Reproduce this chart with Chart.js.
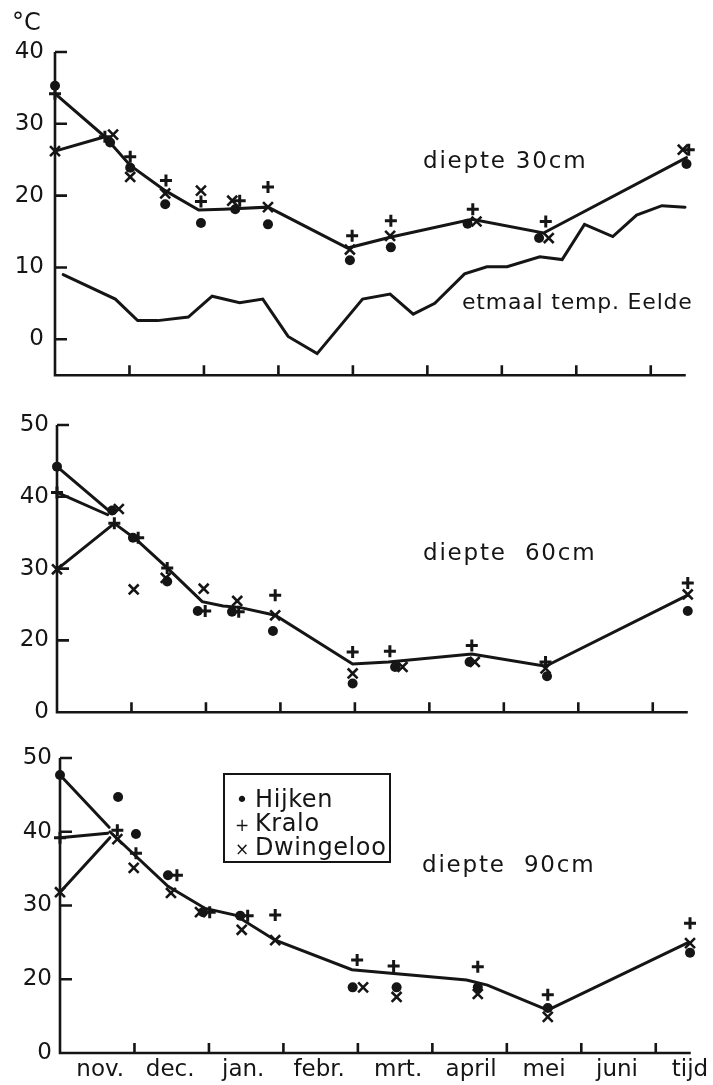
<!DOCTYPE html>
<html lang="nl">
<head>
<meta charset="UTF-8">
<title>Bodemtemperatuur Hijken, Kralo, Dwingeloo</title>
<script src="https://cdn.jsdelivr.net/npm/chart.js"></script>
<style>
  body { margin: 0; background: #fff; }
  .page { position: relative; width: 713px; height: 1085px; font-family: "DejaVu Sans", sans-serif; color: #151515; }
  .panel { position: absolute; left: 0; width: 713px; }
  .note { position: absolute; white-space: pre; line-height: 1; }
  .depth { font-size: 23px; letter-spacing: 1.8px; }
  .legend { position: absolute; left: 223px; top: 773px; width: 168px; height: 90px;
            border: 2px solid #151515; padding: 12px 0 0 10px; box-sizing: border-box;
            font-size: 24px; line-height: 24px; letter-spacing: 0.6px; }
  .legend div { white-space: pre; height: 24px; }
  .legend span { display: inline-block; width: 14px; text-align: center; margin-right: 6px; font-size: 17px; letter-spacing: 0; }
</style>
</head>
<body>
<div class="page">
  <div class="panel" style="top:0;height:400px"><canvas id="chart30"></canvas></div>
  <div class="panel" style="top:400px;height:334px"><canvas id="chart60"></canvas></div>
  <div class="panel" style="top:734px;height:351px"><canvas id="chart90"></canvas></div>

  <div class="note" style="left:12px;top:10px;font-size:24px">°C</div>
  <div class="note depth" style="left:423px;top:149px">diepte 30cm</div>
  <div class="note" style="left:462px;top:291px;font-size:22px;letter-spacing:0.8px">etmaal temp. Eelde</div>
  <div class="note depth" style="left:423px;top:541px">diepte  60cm</div>
  <div class="note depth" style="left:422px;top:853px">diepte  90cm</div>

  <div class="legend">
    <div><span style="font-size:22px">•</span>Hijken</div>
    <div><span>+</span>Kralo</div>
    <div><span>×</span>Dwingeloo</div>
  </div>
</div>

<script>
const INK = '#151515';

// x = months since the start of november (1 = dec, 2 = jan, ...)
const monthMarks = [1, 2, 3, 4, 5, 6, 7, 8];
const monthLabelPos = [0.54, 1.48, 2.46, 3.48, 4.54, 5.52, 6.50, 7.48, 8.46];
const monthLabels = ['nov.', 'dec.', 'jan.', 'febr.', 'mrt.', 'april', 'mei', 'juni', 'tijd'];

// y ticks; the 60 and 90 cm axes are broken below 20
const yTicks30 = [0, 10, 20, 30, 40];
const yLabels30 = ['0', '10', '20', '30', '40'];
const yTicksDeep = [10, 20, 30, 40, 50];
const yLabelsDeep = ['0', '20', '30', '40', '50'];

// ---- diepte 30 cm ----
const hijken30X = [0, 0.74, 1.01, 1.48, 1.96, 2.42, 2.86, 3.96, 4.51, 5.54, 6.50, 8.48];
const hijken30  = [35.3, 27.4, 23.9, 18.8, 16.2, 18.1, 16.0, 11.0, 12.8, 16.1, 14.1, 24.4];
const kralo30X  = [0, 0.67, 1.01, 1.49, 1.96, 2.48, 2.86, 3.99, 4.51, 5.61, 6.59, 8.51];
const kralo30   = [34.2, 28.2, 25.4, 22.1, 19.2, 19.3, 21.2, 14.4, 16.5, 18.1, 16.4, 26.4];
const dwing30X  = [0, 0.78, 1.01, 1.48, 1.96, 2.38, 2.86, 3.96, 4.50, 5.66, 6.63, 8.43];
const dwing30   = [26.2, 28.5, 22.6, 20.3, 20.7, 19.3, 18.4, 12.5, 14.4, 16.4, 14.1, 26.4];
const mean30X   = [0.67, 1.01, 1.48, 1.93, 2.26, 2.86, 3.93, 4.50, 5.60, 6.56, 8.48];
const mean30    = [28.2, 24.2, 20.7, 18.0, 18.1, 18.4, 12.7, 14.2, 16.7, 14.8, 25.3];
// where the first reading of each station joins the mean line (Hijken, Kralo, Dwingeloo)
const join30X   = [null, 0.67, 0.67];
const join30    = [null, 28.2, 28.2];

// daily mean air temperature Eelde
const eeldeX = [0.11, 0.81, 1.11, 1.38, 1.79, 2.11, 2.48, 2.79, 3.13, 3.52, 4.13, 4.50,
                4.81, 5.10, 5.50, 5.80, 6.07, 6.51, 6.81, 7.11, 7.49, 7.81, 8.15, 8.46];
const eelde  = [9.0, 5.6, 2.6, 2.6, 3.1, 6.0, 5.1, 5.6, 0.4, -2.0, 5.6, 6.3,
                3.5, 5.0, 9.1, 10.1, 10.1, 11.5, 11.1, 16.0, 14.3, 17.3, 18.6, 18.4];

// ---- diepte 60 cm ----
const hijken60X = [0, 0.74, 1.02, 1.48, 1.89, 2.35, 2.90, 3.97, 4.54, 5.54, 6.58, 8.47];
const hijken60  = [44.2, 38.1, 34.3, 28.2, 24.1, 24.0, 21.3, 14.0, 16.3, 17.0, 15.0, 24.1];
const kralo60X  = [0, 0.77, 1.09, 1.48, 1.99, 2.44, 2.93, 3.97, 4.47, 5.57, 6.56, 8.47];
const kralo60   = [40.6, 36.3, 34.3, 30.1, 24.1, 24.0, 26.3, 18.4, 18.5, 19.3, 17.0, 28.0];
const dwing60X  = [0, 0.83, 1.03, 1.46, 1.97, 2.42, 2.93, 3.97, 4.64, 5.61, 6.56, 8.47];
const dwing60   = [29.9, 38.3, 27.1, 28.7, 27.2, 25.5, 23.5, 15.4, 16.3, 17.0, 16.1, 26.4];
const mean60X   = [0.77, 1.07, 1.48, 1.95, 2.23, 2.45, 2.93, 3.97, 4.45, 5.57, 6.56, 8.47];
const mean60    = [36.3, 34.0, 30.1, 25.4, 24.8, 24.6, 23.5, 16.7, 17.0, 18.1, 16.4, 26.3];
const join60X   = [0.68, 0.68, 0.77];
const join60    = [38.2, 37.5, 36.3];

// ---- diepte 90 cm ----
const hijken90X = [0, 0.78, 1.02, 1.45, 1.92, 2.42, null, 3.93, 4.52, 5.61, 6.55, 8.46];
const hijken90  = [47.7, 44.7, 39.7, 34.1, 29.1, 28.6, null, 18.9, 18.9, 18.9, 16.1, 23.6];
const kralo90X  = [0, 0.77, 1.02, 1.57, 2.01, 2.52, 2.89, 3.99, 4.48, 5.61, 6.55, 8.46];
const kralo90   = [39.2, 40.2, 37.1, 34.1, 29.1, 28.6, 28.7, 22.6, 21.8, 21.7, 17.9, 27.6];
const dwing90X  = [0, 0.77, 0.99, 1.49, 1.88, 2.44, 2.89, 4.07, 4.52, 5.61, 6.55, 8.46];
const dwing90   = [31.8, 39.0, 35.1, 31.7, 29.1, 26.7, 25.3, 18.9, 17.6, 18.0, 14.9, 24.9];
const mean90X   = [0.67, 1.45, 1.95, 2.35, 2.89, 3.92, 5.46, 5.74, 6.55, 8.44];
const mean90    = [40.0, 32.6, 29.6, 28.7, 25.3, 21.3, 19.9, 19.2, 15.8, 25.0];
const join90X   = [0.66, 0.64, 0.67];
const join90    = [40.6, 39.8, 39.2];

Chart.defaults.font.family = '"DejaVu Sans", sans-serif';
Chart.defaults.color = INK;

function pts(xs, ys) {
  const out = [];
  xs.forEach((x, i) => {
    if (x !== null && ys[i] !== null) out.push({ x: x, y: ys[i] });
  });
  return out;
}

function lineSet(xs, ys) {
  return {
    data: pts(xs, ys), showLine: true, borderColor: INK, borderWidth: 3,
    borderCapStyle: 'round', pointRadius: 0, clip: false
  };
}

// markers of the three stations plus the lines that tie the first readings to the mean line
function stationSets(hx, hy, kx, ky, dx, dy, joinX, joinY) {
  const sets = [
    { data: pts(hx, hy), pointStyle: 'circle', pointRadius: 5, pointBackgroundColor: INK, pointBorderWidth: 0 },
    { data: pts(kx, ky), pointStyle: 'cross', pointRadius: 6, pointBorderColor: INK, pointBorderWidth: 3 },
    { data: pts(dx, dy), pointStyle: 'crossRot', pointRadius: 7, pointBorderColor: INK, pointBorderWidth: 2.6 }
  ].map(d => Object.assign(d, { showLine: false, clip: false }));
  [[hx, hy], [kx, ky], [dx, dy]].forEach(([xs, ys], i) => {
    if (joinX[i] !== null) sets.push(lineSet([xs[0], joinX[i]], [ys[0], joinY[i]]));
  });
  return sets;
}

// L-shaped axes with short ticks pointing into the plot
const axisFrame = {
  id: 'axisFrame',
  afterDatasetsDraw(chart, args, opts) {
    const { ctx, chartArea: area, scales: { x, y } } = chart;
    const right = x.getPixelForValue(opts.xEnd);
    ctx.save();
    ctx.strokeStyle = INK;
    ctx.lineWidth = 2.6;
    ctx.beginPath();
    ctx.moveTo(area.left, y.getPixelForValue(y.max));
    ctx.lineTo(area.left, area.bottom);
    ctx.lineTo(right, area.bottom);
    y.ticks.forEach(t => {
      if (t.value <= y.min) return;
      const py = y.getPixelForValue(t.value);
      ctx.moveTo(area.left, py);
      ctx.lineTo(area.left + 12, py);
    });
    opts.marks.forEach(v => {
      const px = x.getPixelForValue(v);
      ctx.moveTo(px, area.bottom);
      ctx.lineTo(px, area.bottom - 10);
    });
    ctx.stroke();
    ctx.restore();
  }
};

function drawPanel(id, cfg) {
  new Chart(document.getElementById(id), {
    type: 'scatter',
    data: { datasets: cfg.datasets },
    options: {
      responsive: true,
      maintainAspectRatio: false,
      animation: false,
      layout: { padding: cfg.padding },
      plugins: {
        legend: { display: false },
        tooltip: { enabled: false },
        axisFrame: { xEnd: 8.47, marks: monthMarks }
      },
      scales: {
        x: {
          type: 'linear', min: 0, max: 8.5,
          grid: { display: false, drawTicks: false },
          border: { display: false },
          ticks: {
            display: cfg.monthLabels, autoSkip: false, maxRotation: 0, padding: 3,
            font: { size: 23 },
            callback: (v, i) => monthLabels[i]
          },
          afterBuildTicks: s => { s.ticks = monthLabelPos.map(v => ({ value: v })); },
          afterFit: s => { s.height = cfg.monthLabels ? 32 : 0; }
        },
        y: {
          type: 'linear', min: cfg.yMin, max: cfg.yMax,
          grid: { display: false, drawTicks: false },
          border: { display: false },
          ticks: {
            autoSkip: false, padding: cfg.labelGap, font: { size: 23 },
            callback: (v, i) => cfg.yLabels[i]
          },
          afterBuildTicks: s => { s.ticks = cfg.yTicks.map(v => ({ value: v })); },
          afterFit: s => { s.width = cfg.left; }
        }
      }
    },
    plugins: [axisFrame]
  });
}

drawPanel('chart30', {
  left: 55, padding: { top: 52, bottom: 12, left: 0, right: 25 },
  yMin: -5, yMax: 40, yTicks: yTicks30, yLabels: yLabels30, labelGap: 11, monthLabels: false,
  datasets: stationSets(hijken30X, hijken30, kralo30X, kralo30, dwing30X, dwing30, join30X, join30)
    .concat([lineSet(mean30X, mean30), lineSet(eeldeX, eelde)])
});

drawPanel('chart60', {
  left: 57, padding: { top: 25, bottom: 12, left: 0, right: 23 },
  yMin: 10, yMax: 50, yTicks: yTicksDeep, yLabels: yLabelsDeep, labelGap: 8, monthLabels: false,
  datasets: stationSets(hijken60X, hijken60, kralo60X, kralo60, dwing60X, dwing60, join60X, join60)
    .concat([lineSet(mean60X, mean60)])
});

drawPanel('chart90', {
  left: 60, padding: { top: 24, bottom: 0, left: 0, right: 20 },
  yMin: 10, yMax: 50, yTicks: yTicksDeep, yLabels: yLabelsDeep, labelGap: 8, monthLabels: true,
  datasets: stationSets(hijken90X, hijken90, kralo90X, kralo90, dwing90X, dwing90, join90X, join90)
    .concat([lineSet(mean90X, mean90)])
});
</script>
</body>
</html>
